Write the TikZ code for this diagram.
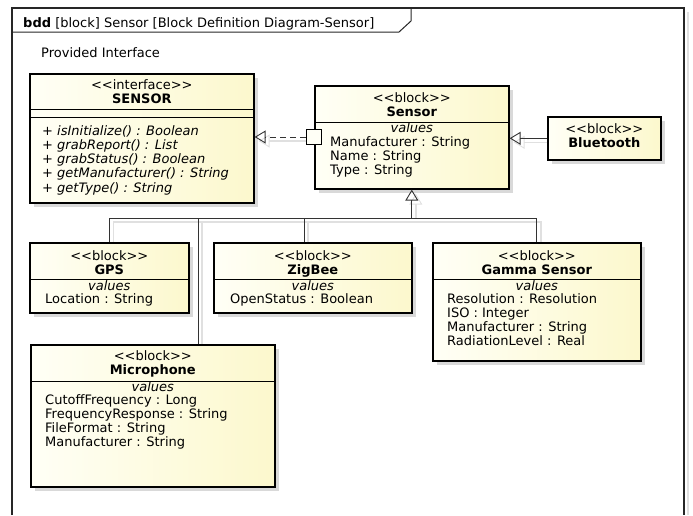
\documentclass[tikz,border=0pt]{standalone}
\usepackage{fontspec}
\setmainfont{DejaVu Sans}
\usetikzlibrary{arrows.meta,shadows,backgrounds}

\definecolor{fillA}{RGB}{255,255,246}
\definecolor{fillB}{RGB}{252,248,205}

\newcommand{\blockfont}{\fontsize{13}{14.3}\selectfont}
\newcommand{\stereo}[1]{<{}<#1>{}>}

\tikzset{
  blockbox/.style={draw=black, line width=1.6pt, left color=fillA, right color=fillB,
    anchor=north west, inner sep=0pt,
    drop shadow={shadow xshift=4pt, shadow yshift=-4pt, fill=black!15, opacity=1}},
  port/.style={draw=black, line width=1.6pt, fill=fillA, minimum size=15pt, inner sep=0pt},
  sepline/.style={line width=0.9pt},
  title/.style={anchor=north, align=center, inner sep=0pt},
  vals/.style={anchor=north, inner sep=0pt, font=\blockfont\itshape},
  attrs/.style={anchor=north west, align=left, inner sep=0pt},
  conn/.style={draw=black!80, line width=0.9pt,
    preaction={draw=black!12, line width=1.4pt, shorten <=4pt, transform canvas={shift={(4pt,-4pt)}}}},
  gen/.style={conn, -{Triangle[open, length=11pt, width=13pt, line width=0.9pt]}},
}

\begin{document}
\begin{tikzpicture}[x=1pt, y=-1pt, font=\blockfont]
        \useasboundingbox (0,0) rectangle (693,515);

        % 图框与标题
        \draw[black!12, line width=2pt] (688,12) -- (688,515);
        \draw[black!85, line width=1.2pt] (12,515) -- (12,8) -- (684,8) -- (684,515);
        \draw[black!85, line width=1pt] (12,32) -- (399,32) -- (411,21) -- (411,8);
        \node[anchor=base west, inner sep=0pt] (hdr) at (23,27) {\textbf{bdd} [block] Sensor [Block Definition Diagram-Sensor]};
        \node[anchor=base west, inner sep=0pt] (note) at (41,57) {Provided Interface};

        % 接口 SENSOR
        \node[blockbox, minimum width=224pt, minimum height=129pt] (iface) at (29,73) {};
        \draw[sepline] (iface.west |- 0,109) -- (iface.east |- 0,109);
        \draw[sepline] (iface.west |- 0,117) -- (iface.east |- 0,117);
        \node[title] (iface-t) at (iface.north |- 0,79) {\stereo{interface}\\\textbf{SENSOR}};
        \node[attrs, font=\blockfont\itshape] (iface-m) at (42,125) {+ isInitialize() : Boolean\\+ grabReport() : List\\+ grabStatus() : Boolean\\+ getManufacturer() : String\\+ getType() : String};

        % 模块 Sensor
        \node[blockbox, minimum width=194pt, minimum height=103pt] (sensor) at (314,85) {};
        \draw[sepline] (sensor.west |- 0,122) -- (sensor.east |- 0,122);
        \node[title] (sensor-t) at (sensor.north |- 0,92) {\stereo{block}\\\textbf{Sensor}};
        \node[vals] (sensor-v) at (sensor.north |- 0,122) {values};
        \node[attrs] (sensor-a) at (330,136) {Manufacturer : String\\Name : String\\Type : String};
        \node[port] (port) at (314,137) {};

        % 模块 Bluetooth
        \node[blockbox, minimum width=113pt, minimum height=43pt] (bt) at (547,116) {};
        \node[title] (bt-t) at (bt.north |- 0,123) {\stereo{block}\\\textbf{Bluetooth}};

        % 模块 GPS
        \node[blockbox, minimum width=159pt, minimum height=70pt] (gps) at (29,242) {};
        \draw[sepline] (gps.west |- 0,279) -- (gps.east |- 0,279);
        \node[title] (gps-t) at (gps.north |- 0,250) {\stereo{block}\\\textbf{GPS}};
        \node[vals] (gps-v) at (gps.north |- 0,280) {values};
        \node[attrs] (gps-a) at (45,293) {Location : String};

        % 模块 ZigBee
        \node[blockbox, minimum width=198pt, minimum height=70pt] (zigbee) at (213,242) {};
        \draw[sepline] (zigbee.west |- 0,279) -- (zigbee.east |- 0,279);
        \node[title] (zigbee-t) at (zigbee.north |- 0,250) {\stereo{block}\\\textbf{ZigBee}};
        \node[vals] (zigbee-v) at (zigbee.north |- 0,280) {values};
        \node[attrs] (zigbee-a) at (230,293) {OpenStatus : Boolean};

        % 模块 Gamma Sensor
        \node[blockbox, minimum width=208pt, minimum height=118pt] (gamma) at (432,242) {};
        \draw[sepline] (gamma.west |- 0,279) -- (gamma.east |- 0,279);
        \node[title] (gamma-t) at (gamma.north |- 0,250) {\stereo{block}\\\textbf{Gamma Sensor}};
        \node[vals] (gamma-v) at (gamma.north |- 0,280) {values};
        \node[attrs] (gamma-a) at (447,293) {Resolution : Resolution\\ISO : Integer\\Manufacturer : String\\RadiationLevel : Real};

        % 模块 Microphone
        \node[blockbox, minimum width=244pt, minimum height=142pt] (mic) at (30,344) {};
        \draw[sepline] (mic.west |- 0,381) -- (mic.east |- 0,381);
        \node[title] (mic-t) at (mic.north |- 0,350) {\stereo{block}\\\textbf{Microphone}};
        \node[vals] (mic-v) at (mic.north |- 0,381) {values};
        \node[attrs] (mic-a) at (45,394) {CutoffFrequency : Long\\FrequencyResponse : String\\FileFormat : String\\Manufacturer : String};

        % 连线
        \draw[conn, dash pattern=on 6pt off 4pt, -{Triangle[open, length=11pt, width=13pt, line width=0.9pt]}] (port.west) -- (iface.east |- port.west);
        \draw[gen] (bt.west) -- (sensor.east |- bt.west);
        \coordinate (fork) at (sensor.south |- 0,218);
        \draw[gen] (fork) -- (sensor.south);
        \draw[conn] (gps.north) |- (fork);
        \draw[conn] (mic.north -| 198,0) |- (fork);
        \draw[conn] (zigbee.north -| 304,0) |- (fork);
        \draw[conn] (gamma.north) |- (fork);
    \end{tikzpicture}
\end{document}
